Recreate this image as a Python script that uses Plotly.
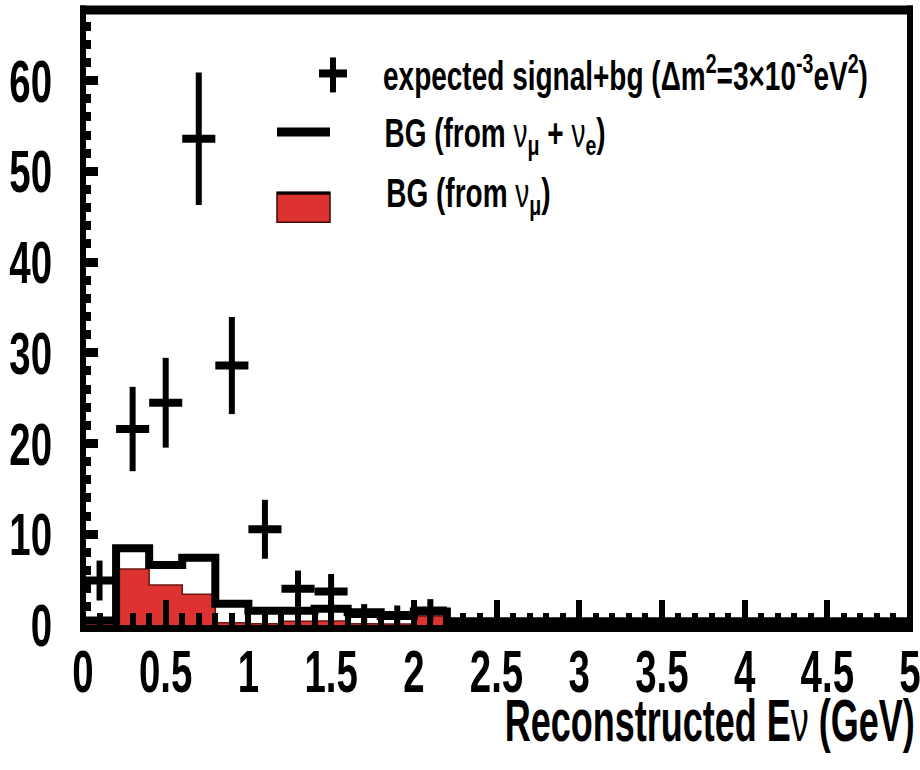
import plotly.graph_objects as go

# ---------------- data ----------------
bin_edges = [0.0, 0.2, 0.4, 0.6, 0.8, 1.0, 1.2, 1.4, 1.6, 1.8, 2.0, 2.2, 2.4, 2.6, 2.8,
             3.0, 3.2, 3.4, 3.6, 3.8, 4.0, 4.2, 4.4, 4.6, 4.8, 5.0]
bg_numu_nue = [0.5, 8.45, 6.6, 7.4, 2.33, 1.56, 1.56, 1.8, 1.4, 1.0, 1.5,
               0.4, 0.4, 0.4, 0.4, 0.4, 0.4, 0.4, 0.4, 0.4, 0.4, 0.4, 0.4, 0.4, 0.4]
bg_numu = [0.25, 6.17, 4.4, 3.4, 0.25, 0.15, 0.4, 0.45, 0.15, 0.1, 1.0,
           0.05, 0.05, 0.05, 0.05, 0.05, 0.05, 0.05, 0.05, 0.05, 0.05, 0.05, 0.05, 0.05, 0.05]
sig_x = [0.1, 0.3, 0.5, 0.7, 0.9, 1.1, 1.3, 1.5, 1.7, 1.9, 2.1]
sig_y = [4.9, 21.6, 24.5, 53.6, 28.6, 10.55, 4.0, 3.7, 1.2, 1.1, 1.6]
sig_err = [2.2, 4.65, 4.95, 7.3, 5.35, 3.25, 2.0, 1.92, 1.1, 1.05, 1.25]
x_ticks = [0, 0.5, 1, 1.5, 2, 2.5, 3, 3.5, 4, 4.5, 5]
x_ticktext = ["0", "0.5", "1", "1.5", "2", "2.5", "3", "3.5", "4", "4.5", "5"]
y_ticks = [0, 10, 20, 30, 40, 50, 60]

RED = "#dc3330"
FONT = "Liberation Sans, Arial, Helvetica, sans-serif"
NU = '<span style="font-weight:normal">ν</span>'

# pixel geometry helpers (plot area: x 83..910, y 9.5..625)
L, R, T, B = 83.0, 910.0, 9.5, 625.0
def px(x):
    return (x - L) / (R - L)
def py(y):
    return (B - y) / (B - T)

fig = go.Figure()

fig.add_trace(go.Scatter(
    x=bin_edges, y=bg_numu + [bg_numu[-1]], mode="lines", line_shape="hv",
    fill="tozeroy", fillcolor=RED, line=dict(color="#6e1412", width=1.5),
    hoverinfo="skip", showlegend=False))

fig.add_trace(go.Scatter(
    x=bin_edges, y=bg_numu_nue + [bg_numu_nue[-1]], mode="lines", line_shape="hv",
    line=dict(color="black", width=8), hoverinfo="skip", showlegend=False))

fig.add_trace(go.Scatter(
    x=sig_x, y=sig_y, mode="markers", marker=dict(size=1, color="black"),
    error_x=dict(type="constant", value=0.1, thickness=8, width=0, color="black"),
    error_y=dict(type="data", array=sig_err, thickness=6, width=0, color="black"),
    hoverinfo="skip", showlegend=False))

shapes = []
# frame
shapes.append(dict(type="line", xref="paper", yref="paper", x0=0, x1=0, y0=py(632), y1=1 + 4.5 / (B - T),
                   line=dict(color="black", width=6), layer="above"))
shapes.append(dict(type="line", xref="paper", yref="paper", x0=1, x1=1, y0=py(632), y1=1 + 4.5 / (B - T),
                   line=dict(color="black", width=6), layer="above"))
shapes.append(dict(type="line", xref="paper", yref="paper", x0=px(80), x1=px(913), y0=1, y1=1,
                   line=dict(color="black", width=9), layer="above"))
shapes.append(dict(type="line", xref="paper", yref="paper", x0=px(80), x1=px(913), y0=py(628.5), y1=py(628.5),
                   line=dict(color="black", width=7), layer="above"))
# legend symbols
shapes.append(dict(type="line", xref="paper", yref="paper", x0=px(333), x1=px(333), y0=py(57), y1=py(92),
                   line=dict(color="black", width=6)))
shapes.append(dict(type="line", xref="paper", yref="paper", x0=px(319), x1=px(347), y0=py(73), y1=py(73),
                   line=dict(color="black", width=8)))
shapes.append(dict(type="rect", xref="paper", yref="paper", x0=px(277), x1=px(330), y0=py(136), y1=py(127),
                   fillcolor="black", line=dict(width=0)))
shapes.append(dict(type="rect", xref="paper", yref="paper", x0=px(277), x1=px(330), y0=py(222), y1=py(192),
                   fillcolor=RED, line=dict(color="#3a0a0a", width=1.5)))
shapes.append(dict(type="line", xref="paper", yref="paper", x0=px(277), x1=px(330), y0=py(193), y1=py(193),
                   line=dict(color="black", width=3)))

ann = []
leg_font = dict(family=FONT, size=40, color="black", weight="bold")
ann.append(dict(xref="paper", yref="paper", x=px(625.5), y=py(73), xanchor="center", yanchor="middle",
                text="expected signal+bg (Δm<sup>2</sup>=3×10<sup>-3</sup>eV<sup>2</sup>)",
                showarrow=False, font=leg_font))
ann.append(dict(xref="paper", yref="paper", x=px(495), y=py(136), xanchor="center", yanchor="middle",
                text="BG (from " + NU + "<sub>μ</sub> + " + NU + "<sub>e</sub>)", showarrow=False, font=leg_font))
ann.append(dict(xref="paper", yref="paper", x=px(468), y=py(196), xanchor="center", yanchor="middle",
                text="BG (from " + NU + "<sub>μ</sub>)", showarrow=False, font=leg_font))
ann.append(dict(xref="paper", yref="paper", x=px(709.5), y=py(721), xanchor="center", yanchor="middle",
                text="Reconstructed E" + NU + " (GeV)", showarrow=False,
                font=dict(family=FONT, size=60, color="black", weight="bold")))

tick_font = dict(family=FONT, size=60, color="black", weight="bold")
fig.update_layout(
    width=920, height=770, autosize=False,
    margin=dict(l=L, r=920 - R, t=T, b=770 - B, pad=0, autoexpand=False),
    plot_bgcolor="white", paper_bgcolor="white",
    shapes=shapes, annotations=ann, showlegend=False,
    xaxis=dict(range=[0, 5], tickvals=x_ticks, ticktext=x_ticktext, ticks="inside",
               ticklen=25, tickwidth=6, tickcolor="black", showline=False, showgrid=False,
               zeroline=False, tickfont=tick_font, ticklabelstandoff=6, automargin=False,
               ticklabeloverflow="allow",
               minor=dict(dtick=0.1, ticks="inside", ticklen=12, tickwidth=6, tickcolor="black",
                          showgrid=False)),
    yaxis=dict(range=[0, (B - T) / 9.08], tickvals=y_ticks, ticks="inside",
               ticklen=15, tickwidth=9, tickcolor="black", showline=False, showgrid=False,
               zeroline=False, tickfont=tick_font, ticklabelstandoff=30, automargin=False,
               ticklabeloverflow="allow",
               minor=dict(dtick=2, ticks="inside", ticklen=8, tickwidth=9, tickcolor="black",
                          showgrid=False)),
)

post = """
var gd = document.getElementById('{plot_id}');
gd.querySelectorAll('svg text').forEach(function(el){
  var fs = parseFloat(el.style.fontSize || '60');
  var isAnn = el.classList.contains('annotation-text');
  var S = fs < 50 ? 0.7 : (isAnn ? 0.6 : 0.64);
  var bb = el.getBBox();
  var a = el.getAttribute('text-anchor') || 'start';
  var p = a === 'end' ? bb.x + bb.width : (a === 'middle' ? bb.x + bb.width / 2 : bb.x);
  var t = el.getAttribute('transform') || '';
  el.setAttribute('transform', t + ' translate(' + p + ',0) scale(' + S + ',1) translate(' + (-p) + ',0)');
});
"""

fig.write_html("out.html", config={"staticPlot": True, "responsive": False}, post_script=post)
